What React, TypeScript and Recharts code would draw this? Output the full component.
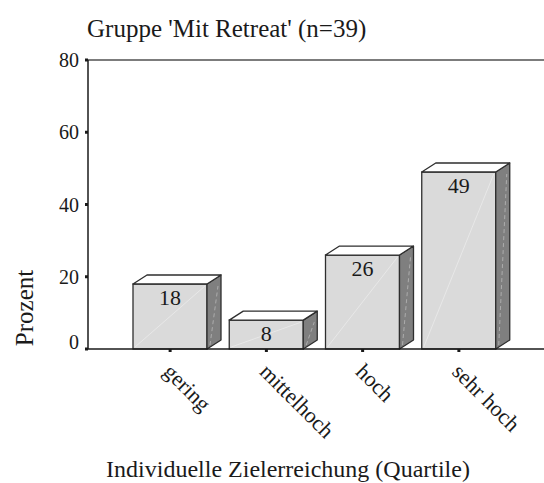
import { BarChart, Bar, XAxis, YAxis, ReferenceLine, LabelList } from "recharts";

const categories = ["gering", "mittelhoch", "hoch", "sehr hoch"];
const percentValues = [18, 8, 26, 49];
const yTicks = [0, 20, 40, 60, 80];

const FONT = "'Liberation Serif', 'DejaVu Serif', serif";
const TEXT = "#1a1a1a";
const EDGE = "#2e2e2e";
const DX = 14;
const DY = 9;

const data = categories.map((c, i) => ({ name: c, value: percentValues[i] }));

// front face + top + right side, drawn from the bar rect Recharts gives us
function Bar3D(props: any) {
  const { x, y, width: w, height: h } = props;
  if (h == null || w == null) return null;
  const top = `${x},${y} ${x + DX},${y - DY} ${x + w + DX},${y - DY} ${x + w},${y}`;
  const side = `${x + w},${y} ${x + w + DX},${y - DY} ${x + w + DX},${y + h - DY} ${x + w},${y + h}`;
  return (
    <g>
      <rect x={x} y={y} width={w} height={h} fill="#dadada" stroke={EDGE} strokeWidth={1.3} />
      <line x1={x + 2} y1={y + h - 2} x2={x + w - 2} y2={y + 2} stroke="#ebebeb" strokeWidth={0.8} />
      <polygon points={side} fill="#7f7f7f" stroke={EDGE} strokeWidth={1.3} strokeLinejoin="round" />
      <line x1={x + w + 3} y1={y + h - 4} x2={x + w + DX - 3} y2={y + 2} stroke="#b8b8b8" strokeWidth={0.8} strokeDasharray="4 3" />
      <polygon points={top} fill="#ffffff" stroke={EDGE} strokeWidth={1.3} strokeLinejoin="round" />
    </g>
  );
}

function CategoryTick(props: any) {
  const { x, y, payload } = props;
  const ax = x - 8;
  const ay = y + 21;
  return (
    <text
      x={ax}
      y={ay}
      transform={`rotate(45 ${ax} ${ay})`}
      textAnchor="start"
      fontFamily={FONT}
      fontSize={22}
      fill={TEXT}
    >
      {payload.value}
    </text>
  );
}

function ValueTick(props: any) {
  const { x, y, payload } = props;
  const shift = payload.value === 0 ? -7 : 0;
  return (
    <text x={x} y={y + shift} dy={7} textAnchor="end" fontFamily={FONT} fontSize={20} fill={TEXT}>
      {payload.value}
    </text>
  );
}

function ValueLabel(props: any) {
  const { x, y, width, value } = props;
  return (
    <text x={x + width / 2} y={y + 21} textAnchor="middle" fontFamily={FONT} fontSize={22} fill={TEXT}>
      {value}
    </text>
  );
}

export default function App() {
  return (
    <div style={{ position: "absolute", left: 0, top: 0, width: 544, height: 483, background: "#fff" }}>
      <svg width={544} height={483} style={{ position: "absolute", left: 0, top: 0 }}>
        <text x={87} y={37} fontFamily={FONT} fontSize={25} fill={TEXT}>
          Gruppe 'Mit Retreat' (n=39)
        </text>
        <text
          x={33}
          y={308}
          transform="rotate(-90 33 308)"
          textAnchor="middle"
          fontFamily={FONT}
          fontSize={25}
          fill={TEXT}
        >
          Prozent
        </text>
        <text x={288} y={477} textAnchor="middle" fontFamily={FONT} fontSize={24} fill={TEXT}>
          Individuelle Zielerreichung (Quartile)
        </text>
      </svg>
      <div style={{ position: "absolute", left: 0, top: 0 }}>
        <BarChart
          width={544}
          height={483}
          data={data}
          margin={{ top: 60, right: 0, bottom: 0, left: 0 }}
          barSize={74}
        >
          <ReferenceLine y={80} stroke="#505050" strokeWidth={1.3} />
          <XAxis
            dataKey="name"
            height={134}
            padding={{ left: 34, right: 37 }}
            axisLine={{ stroke: TEXT, strokeWidth: 1.5 }}
            tickLine={{ stroke: TEXT, strokeWidth: 3 }}
            tickSize={3}
            tickMargin={0}
            interval={0}
            tick={<CategoryTick />}
          />
          <YAxis
            width={88}
            domain={[0, 80]}
            ticks={yTicks}
            axisLine={{ stroke: TEXT, strokeWidth: 1.5 }}
            tickLine={{ stroke: TEXT, strokeWidth: 3 }}
            tickSize={3}
            tickMargin={6}
            tick={<ValueTick />}
          />
          <Bar dataKey="value" shape={<Bar3D />} isAnimationActive={false}>
            <LabelList dataKey="value" content={<ValueLabel />} />
          </Bar>
        </BarChart>
      </div>
    </div>
  );
}
